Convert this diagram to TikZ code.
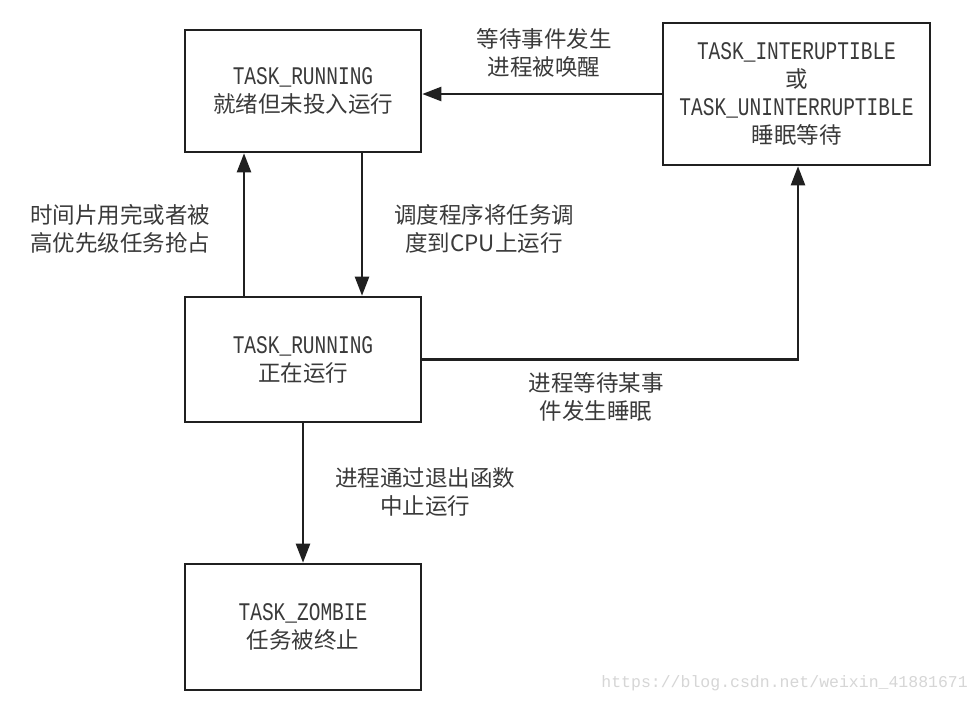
\documentclass[tikz,border=0pt]{standalone}
\usepackage{fontspec}
\usepackage{graphicx}
\setmainfont{Liberation Mono}
\newfontfamily\cjk{Noto Sans CJK SC}
\newfontfamily\monof{Liberation Mono}
\usetikzlibrary{arrows.meta}
\definecolor{ink}{HTML}{202020}
\definecolor{txt}{HTML}{3A3A3A}
\definecolor{wm}{HTML}{D6D6D6}
\newcommand{\en}[1]{\scalebox{1}[1.3]{\monof\fontsize{19.5}{27}\selectfont #1}}
\newcommand{\zh}[1]{{\cjk\fontsize{22.5}{27}\selectfont #1}}
\begin{document}
\begin{tikzpicture}[x=1pt,y=-1pt,
  box/.style={draw=ink,line width=2.6pt,rectangle,minimum width=236pt,align=center,text=txt,inner sep=0pt,font=\cjk\fontsize{22.5}{28}\selectfont},
  lbl/.style={align=center,text=txt,inner sep=0pt,font=\cjk\fontsize{22.5}{28}\selectfont},
  arr/.style={draw=ink,line width=2.4pt,-{Triangle[length=19pt,width=14pt]}}]
\useasboundingbox[fill=white] (0,0) rectangle (979,702);
\node[box,minimum height=122pt] (A) at (303,91) {\en{TASK\_RUNNING}\\\zh{就绪但未投入运行}};
\node[box,minimum width=267pt,minimum height=142pt] (B) at (796.5,94) {\en{TASK\_INTERUPTIBLE}\\\zh{或}\\\en{TASK\_UNINTERRUPTIBLE}\\\zh{睡眠等待}};
\node[box,minimum height=125pt] (C) at (303,359.5) {\en{TASK\_RUNNING}\\\zh{正在运行}};
\node[box,minimum height=126pt] (D) at (303,627) {\en{TASK\_ZOMBIE}\\\zh{任务被终止}};
\draw[arr] (B.west) -- (B.west -| A.east);
\draw[arr] ([xshift=-59pt]C.north) -- ([xshift=-59pt]A.south);
\draw[arr] ([xshift=59pt]A.south) -- ([xshift=59pt]C.north);
\draw[arr] (C.east) -| ([xshift=1.5pt]B.south);
\draw[arr] (C.south) -- (D.north);
\node[lbl] (l1) at (544,53) {等待事件发生\\进程被唤醒};
\node[lbl] (l2) at (120,229) {时间片用完或者被\\高优先级任务抢占};
\node[lbl] (l3) at (484,229) {调度程序将任务调\\度到CPU上运行};
\node[lbl] (l4) at (596,397) {进程等待某事\\件发生睡眠};
\node[lbl] (l5) at (425,492) {进程通过退出函数\\中止运行};
\node[text=wm,inner sep=0pt,anchor=east,font=\monof\fontsize{16.5}{18}\selectfont] (wm) at (968,683) {https://blog.csdn.net/weixin\_41881671};
\end{tikzpicture}
\end{document}
